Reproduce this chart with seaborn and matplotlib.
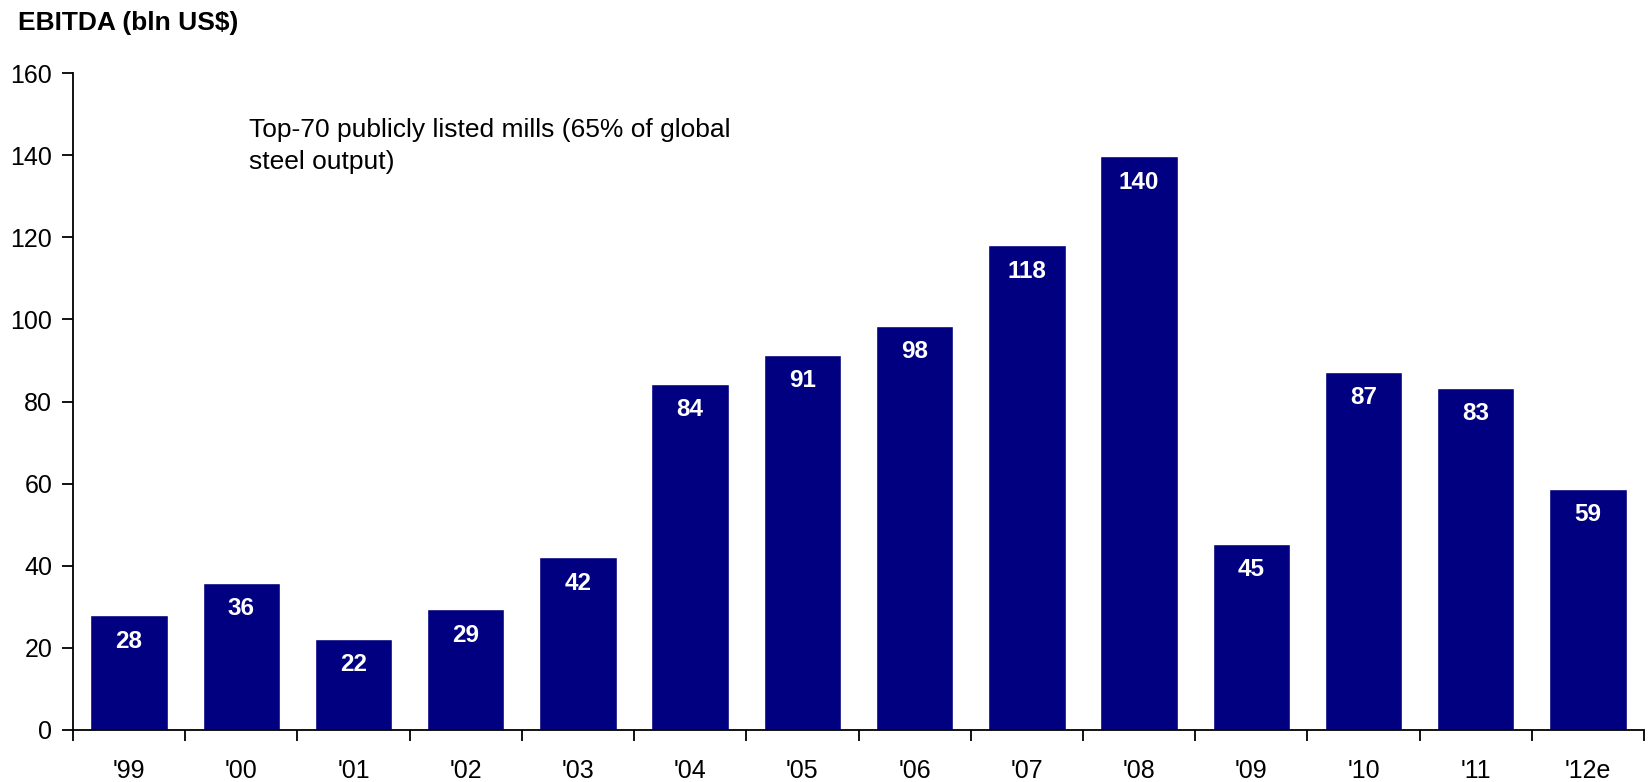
import matplotlib
matplotlib.use("Agg")
import matplotlib.pyplot as plt
import seaborn as sns
import pandas as pd
from matplotlib.ticker import FixedLocator

years = ["'99", "'00", "'01", "'02", "'03", "'04", "'05", "'06", "'07", "'08", "'09", "'10", "'11", "'12e"]
ebitda = [28.0, 35.8, 22.2, 29.4, 42.1, 84.3, 91.4, 98.5, 118.0, 139.7, 45.4, 87.3, 83.4, 58.8]
yticks = [0, 20, 40, 60, 80, 100, 120, 140, 160]

sns.set_theme(style="white")
plt.rcParams["font.family"] = ["Liberation Sans", "DejaVu Sans"]

df = pd.DataFrame({"year": years, "ebitda": ebitda})

fig = plt.figure(figsize=(16.48, 7.82), dpi=100)
ax = fig.add_axes([0.0443, 0.0665, 0.9533, 0.8401])

sns.barplot(data=df, x="year", y="ebitda", order=years, color="#000080",
            saturation=1, width=0.69, ax=ax)

for i, v in enumerate(ebitda):
    ax.annotate(f"{v:.0f}", xy=(i, v), xytext=(0, -18.7), textcoords="offset points",
                ha="center", va="center", color="white", fontsize=17.5, fontweight="bold")

ax.set_xlim(-0.5, len(years) - 0.5)
ax.set_ylim(0, 160)
ax.set_yticks(yticks)
ax.set_yticklabels([str(t) for t in yticks], fontsize=18, color="black")
ax.set_xticks(range(len(years)))
ax.set_xticklabels(years, fontsize=18, color="black")
ax.xaxis.set_minor_locator(FixedLocator([i - 0.5 for i in range(len(years) + 1)]))
ax.tick_params(axis="x", which="major", length=0, pad=21)
ax.tick_params(axis="x", which="minor", length=8, width=1.3, color="black", direction="out", bottom=True)
ax.tick_params(axis="y", which="major", length=8, width=1.3, color="black", direction="out", left=True, pad=7)

ax.set_xlabel("")
ax.set_ylabel("")
for side in ["top", "right"]:
    ax.spines[side].set_visible(False)
for side in ["left", "bottom"]:
    ax.spines[side].set_color("black")
    ax.spines[side].set_linewidth(1.3)

fig.text(18 / 1648, 1 - 23 / 782, "EBITDA (bln US$)", fontsize=19, fontweight="bold",
         ha="left", va="center", color="black")
fig.text(249 / 1648, 1 - 146 / 782, "Top-70 publicly listed mills (65% of global\nsteel output)",
         fontsize=19, ha="left", va="center", color="black", linespacing=1.45)

fig.savefig("out.png", dpi=100)
